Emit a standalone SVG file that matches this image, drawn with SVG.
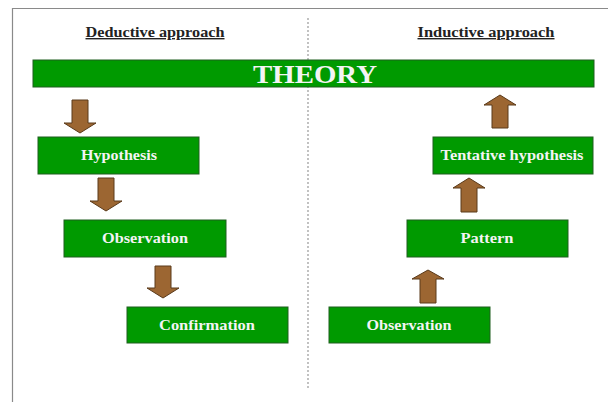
<svg xmlns="http://www.w3.org/2000/svg" width="608" height="402" viewBox="0 0 608 402">
<style>
.box{fill:#009a00;stroke:#1f5f1f;stroke-width:1}
.lbl{font-family:"Liberation Serif",serif;font-weight:bold;font-size:14px;fill:#f4f4f4;text-anchor:middle}
.hd{font-family:"Liberation Serif",serif;font-weight:bold;font-size:14px;fill:#222;text-anchor:middle;text-decoration:underline}
.arr{fill:#9c6632;stroke:#5a3a1a;stroke-width:1}
</style>
<rect width="608" height="402" fill="#fff"/>
<g id="frame">
<path d="M12.5,402 V8.5 H608" fill="none" stroke="#8a8a8a" stroke-width="1.2"/>
<line x1="308" y1="18" x2="308" y2="390" stroke="#999" stroke-width="1.2" stroke-dasharray="2,2"/>
</g>
<g id="headings">
<text class="hd" x="155" y="37" textLength="139" lengthAdjust="spacingAndGlyphs">Deductive approach</text>
<text class="hd" x="486" y="37" textLength="137" lengthAdjust="spacingAndGlyphs">Inductive approach</text>
</g>
<g id="theory">
<rect class="box" x="33" y="60" width="561" height="27"/>
<text x="315" y="83" font-family="Liberation Serif,serif" font-weight="bold" font-size="26" fill="#f4f4f4" text-anchor="middle" textLength="124" lengthAdjust="spacingAndGlyphs">THEORY</text>
</g>
<g id="hypothesis">
<rect class="box" x="38" y="137" width="161" height="37"/>
<text class="lbl" x="119" y="160" textLength="76" lengthAdjust="spacingAndGlyphs">Hypothesis</text>
</g>
<g id="observation-left">
<rect class="box" x="64" y="220" width="162" height="37"/>
<text class="lbl" x="145" y="243" textLength="86" lengthAdjust="spacingAndGlyphs">Observation</text>
</g>
<g id="confirmation">
<rect class="box" x="127" y="307" width="161" height="36"/>
<text class="lbl" x="207" y="330" textLength="96" lengthAdjust="spacingAndGlyphs">Confirmation</text>
</g>
<g id="observation-right">
<rect class="box" x="329" y="307" width="161" height="36"/>
<text class="lbl" x="409" y="330" textLength="85" lengthAdjust="spacingAndGlyphs">Observation</text>
</g>
<g id="pattern">
<rect class="box" x="407" y="220" width="161" height="37"/>
<text class="lbl" x="487" y="243" textLength="53" lengthAdjust="spacingAndGlyphs">Pattern</text>
</g>
<g id="tentative-hypothesis">
<rect class="box" x="433" y="137" width="160" height="37"/>
<text class="lbl" x="512" y="160" textLength="143" lengthAdjust="spacingAndGlyphs">Tentative hypothesis</text>
</g>
<g id="connectors">
<path class="arr" d="M72,100 H88 V123 H96 L80,133 L64,123 H72 Z"/>
<path class="arr" d="M98,178 H114 V201 H122 L106,211 L90,201 H98 Z"/>
<path class="arr" d="M155,266 H171 V288 H179 L163,298 L147,288 H155 Z"/>
<path class="arr" d="M420,303 H436 V279 H444 L428,270 L412,279 H420 Z"/>
<path class="arr" d="M461,212 H477 V188 H485 L469,178 L453,188 H461 Z"/>
<path class="arr" d="M492,128 H508 V105 H516 L500,95 L484,105 H492 Z"/>
</g>
</svg>
